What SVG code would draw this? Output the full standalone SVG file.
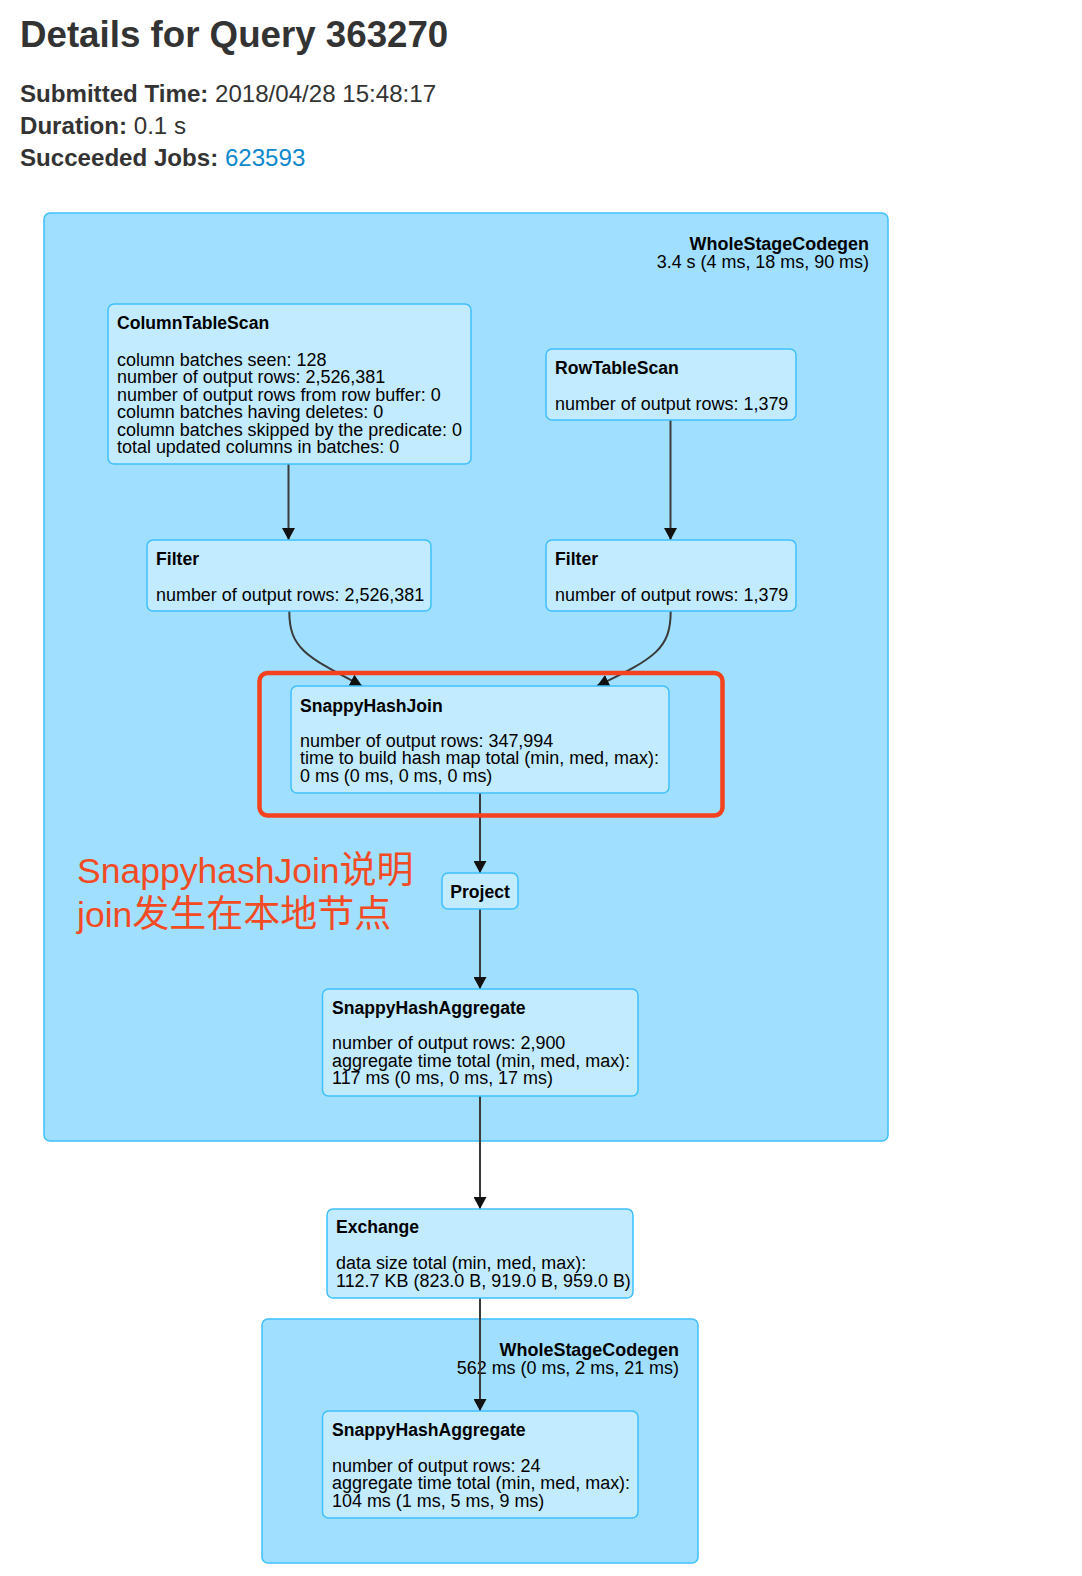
<svg xmlns="http://www.w3.org/2000/svg" width="1082" height="1576" viewBox="0 0 1082 1576">
<style>
text{font-family:"Liberation Sans",Arial,Helvetica,sans-serif;fill:#000}
.h1{font-size:36.7px;font-weight:bold;fill:#333}
.hd{font-size:24.1px;fill:#333}
.b{font-weight:bold}
.lnk{fill:#0f88cc}
.cl{fill:#a0dfff;stroke:#3ec0ff;stroke-width:1.5}
.nd{fill:#c3ebff;stroke:#3ec0ff;stroke-width:1.5}
.t{font-size:17.6px;font-weight:bold}
.m{font-size:17.95px}
.edge{fill:none;stroke:#3a3a3a;stroke-width:2}
.ann{font-family:"Liberation Sans","Noto Sans CJK SC",sans-serif;font-size:35.5px;fill:#f24b24}
.cjk{font-family:"Noto Sans CJK SC",sans-serif;font-size:37px}
</style>
<defs>
<marker id="ah" markerUnits="userSpaceOnUse" markerWidth="13" markerHeight="13" refX="12" refY="6.5" orient="auto">
<path d="M0,0 L12,6.5 L0,13 z" fill="#111"/>
</marker>
</defs>
<rect width="1082" height="1576" fill="#fff"/>
<g id="header">
<text class="h1" x="20" y="47">Details for Query 363270</text>
<text class="hd" x="20" y="102"><tspan class="b">Submitted Time:</tspan> 2018/04/28 15:48:17</text>
<text class="hd" x="20" y="134"><tspan class="b">Duration:</tspan> 0.1 s</text>
<text class="hd" x="20" y="166"><tspan class="b">Succeeded Jobs:</tspan> <tspan class="lnk">623593</tspan></text>
</g>
<g id="cluster1">
<rect class="cl" x="44" y="213" width="844" height="928" rx="6"/>
<text class="m" x="869" y="250" text-anchor="end"><tspan class="b">WholeStageCodegen</tspan><tspan x="869" y="268">3.4 s (4 ms, 18 ms, 90 ms)</tspan></text>
</g>
<g id="cluster2">
<rect class="cl" x="262" y="1319" width="436" height="244" rx="6"/>
<text class="m" x="679" y="1356" text-anchor="end"><tspan class="b">WholeStageCodegen</tspan><tspan x="679" y="1373.5">562 ms (0 ms, 2 ms, 21 ms)</tspan></text>
</g>
<g id="connectors">
<line class="edge" x1="288.5" y1="464" x2="288.5" y2="540" marker-end="url(#ah)"/>
<line class="edge" x1="670.5" y1="420" x2="670.5" y2="540" marker-end="url(#ah)"/>
<path class="edge" d="M289.3,611 C289.3,648 305,656 362,686" marker-end="url(#ah)"/>
<path class="edge" d="M670.7,611 C670.7,648 656,658 597,686" marker-end="url(#ah)"/>
<line class="edge" x1="480" y1="793" x2="480" y2="873" marker-end="url(#ah)"/>
<line class="edge" x1="480" y1="909" x2="480" y2="989" marker-end="url(#ah)"/>
<line class="edge" x1="480" y1="1096" x2="480" y2="1209" marker-end="url(#ah)"/>
<line class="edge" x1="480" y1="1298" x2="480" y2="1411" marker-end="url(#ah)"/>
</g>
<g id="node-columntablescan">
<rect class="nd" x="108" y="304" width="363" height="160" rx="6"/>
<text class="t" x="117" y="329">ColumnTableScan</text>
<text class="m" x="117" y="365.7">column batches seen: 128<tspan x="117" y="383.2">number of output rows: 2,526,381</tspan><tspan x="117" y="400.7">number of output rows from row buffer: 0</tspan><tspan x="117" y="418.2">column batches having deletes: 0</tspan><tspan x="117" y="435.7">column batches skipped by the predicate: 0</tspan><tspan x="117" y="453.2">total updated columns in batches: 0</tspan></text>
</g>
<g id="node-rowtablescan">
<rect class="nd" x="546" y="349" width="250" height="71" rx="6"/>
<text class="t" x="555" y="374">RowTableScan</text>
<text class="m" x="555" y="410">number of output rows: 1,379</text>
</g>
<g id="node-filter-left">
<rect class="nd" x="147" y="540" width="284" height="71" rx="6"/>
<text class="t" x="156" y="565">Filter</text>
<text class="m" x="156" y="601">number of output rows: 2,526,381</text>
</g>
<g id="node-filter-right">
<rect class="nd" x="546" y="540" width="250" height="71" rx="6"/>
<text class="t" x="555" y="565">Filter</text>
<text class="m" x="555" y="601">number of output rows: 1,379</text>
</g>
<g id="node-snappyhashjoin">
<rect class="nd" x="291" y="686" width="378" height="107" rx="6"/>
<text class="t" x="300" y="711.7">SnappyHashJoin</text>
<text class="m" x="300" y="746.7">number of output rows: 347,994<tspan x="300" y="764.2">time to build hash map total (min, med, max):</tspan><tspan x="300" y="781.7">0 ms (0 ms, 0 ms, 0 ms)</tspan></text>
</g>
<g id="highlight">
<rect x="259.5" y="673" width="463" height="142.5" rx="8" fill="none" stroke="#f5421e" stroke-width="4.5"/>
</g>
<g id="node-project">
<rect class="nd" x="442" y="873" width="76" height="36" rx="6"/>
<text class="t" x="480" y="898" text-anchor="middle">Project</text>
</g>
<g id="annotation">
<text class="ann" x="77" y="883">SnappyhashJoin<tspan class="cjk">说明</tspan></text>
<text class="ann" x="77" y="926.5">join<tspan class="cjk">发生在本地节点</tspan></text>
</g>
<g id="node-aggregate1">
<rect class="nd" x="322.5" y="989" width="315.5" height="107" rx="6"/>
<text class="t" x="332" y="1014.3">SnappyHashAggregate</text>
<text class="m" x="332" y="1049.3">number of output rows: 2,900<tspan x="332" y="1066.8">aggregate time total (min, med, max):</tspan><tspan x="332" y="1084.3">117 ms (0 ms, 0 ms, 17 ms)</tspan></text>
</g>
<g id="node-exchange">
<rect class="nd" x="327" y="1209" width="306" height="89" rx="6"/>
<text class="t" x="336" y="1233.3">Exchange</text>
<text class="m" x="336" y="1269.3">data size total (min, med, max):<tspan x="336" y="1286.8">112.7 KB (823.0 B, 919.0 B, 959.0 B)</tspan></text>
</g>
<g id="node-aggregate2">
<rect class="nd" x="322.5" y="1411" width="315.5" height="107" rx="6"/>
<text class="t" x="332" y="1436">SnappyHashAggregate</text>
<text class="m" x="332" y="1471.7">number of output rows: 24<tspan x="332" y="1489.2">aggregate time total (min, med, max):</tspan><tspan x="332" y="1506.7">104 ms (1 ms, 5 ms, 9 ms)</tspan></text>
</g>
</svg>
